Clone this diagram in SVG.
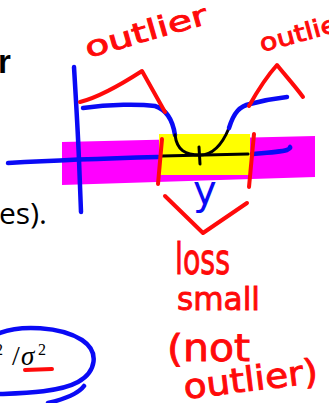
<svg xmlns="http://www.w3.org/2000/svg" width="329" height="403" viewBox="0 0 329 403">
<style>
.blue{fill:none;stroke:#0a0af5;stroke-width:4.5;stroke-linecap:round;stroke-linejoin:round}
.red{fill:none;stroke:#ff0a0a;stroke-width:4;stroke-linecap:round;stroke-linejoin:round}
.black{fill:none;stroke:#000;stroke-width:3;stroke-linecap:round;stroke-linejoin:round}
.hand{font-family:"DejaVu Sans","Liberation Sans",sans-serif;fill:#ff0a0a;stroke:#ff0a0a;stroke-width:0.9}
</style>
<rect width="329" height="403" fill="#fff"/>
<g id="slide-text">
<text x="-2" y="73" font-family="Liberation Sans, Arial, sans-serif" font-weight="bold" font-size="33" fill="#000">r</text>
<text x="-1" y="224" font-family="Open Sans, Liberation Sans, sans-serif" font-size="30" fill="#000">es).</text>
<text y="365" font-family="Liberation Serif, DejaVu Serif, serif" fill="#000"><tspan x="-5" y="355" font-size="16">2</tspan><tspan x="12" y="365" font-size="28">/</tspan><tspan x="21" y="365" font-size="27" font-style="italic">σ</tspan><tspan x="38" y="355" font-size="16">2</tspan></text>
</g>
<g id="highlights">
<polygon points="62,142 315,136 315,177 62,185" fill="#ff00ff"/>
<rect x="159" y="134" width="91" height="41" fill="#ffff00"/>
</g>
<g id="plot">
<path class="blue" d="M74,67 C76,100 78,135 79,160 L81,212"/>
<path class="blue" d="M8,163 C60,160 120,158 158,157"/>
<path class="blue" d="M252,154 C265,153 280,152 287,150 Q291,148 290,147"/>
<path class="black" d="M162,156 L248,154"/>
<path class="black" d="M199,147 L200,164"/>
<path class="blue" d="M83,108 C110,104 140,104 155,106 C168,110 173,122 175,135"/>
<path class="black" d="M175,135 C177,150 185,155 200,155 C213,155 222,145 229,128"/>
<path class="blue" d="M229,128 C234,112 240,106 250,104 C265,100 278,98 287,97"/>
<path class="red" d="M80,102 C100,97 125,82 142,71 L165,112"/>
<path class="red" d="M249,106 C258,90 268,75 277,65 C285,75 295,86 303,97"/>
<path class="red" d="M162,139 L158,184"/>
<path class="red" d="M254,134 L249,187"/>
<path class="red" d="M165,196 L203,233 L247,203"/>
<text x="193" y="204" font-family="DejaVu Sans, Liberation Sans, sans-serif" font-size="40" fill="#0a0af5">y</text>
</g>
<g id="formula-mark">
<path class="blue" d="M0,333 C20,325 60,326 82,340 C100,352 96,372 78,382 C60,392 25,393 0,394"/>
<path class="blue" d="M84,386 C78,394 65,399 48,403"/>
<path class="red" d="M25,370 L52,369" stroke-width="6"/>
</g>
<g id="annotations">
<text class="hand" x="88" y="58" font-size="28" textLength="126" lengthAdjust="spacingAndGlyphs" transform="rotate(-16 88 58)">outlier</text>
<text class="hand" x="262" y="52" font-size="24" textLength="92" lengthAdjust="spacingAndGlyphs" transform="rotate(-15 262 52)">outlier</text>
<text class="hand" x="175" y="274" font-size="42" textLength="55" lengthAdjust="spacingAndGlyphs">loss</text>
<text class="hand" x="177" y="310" font-size="32" textLength="83" lengthAdjust="spacingAndGlyphs">small</text>
<text class="hand" x="167" y="361" font-size="38" textLength="83" lengthAdjust="spacingAndGlyphs">(not</text>
<text class="hand" x="185" y="399" font-size="34" textLength="135" lengthAdjust="spacingAndGlyphs" transform="rotate(-7 185 399)">outlier)</text>
</g>
</svg>
